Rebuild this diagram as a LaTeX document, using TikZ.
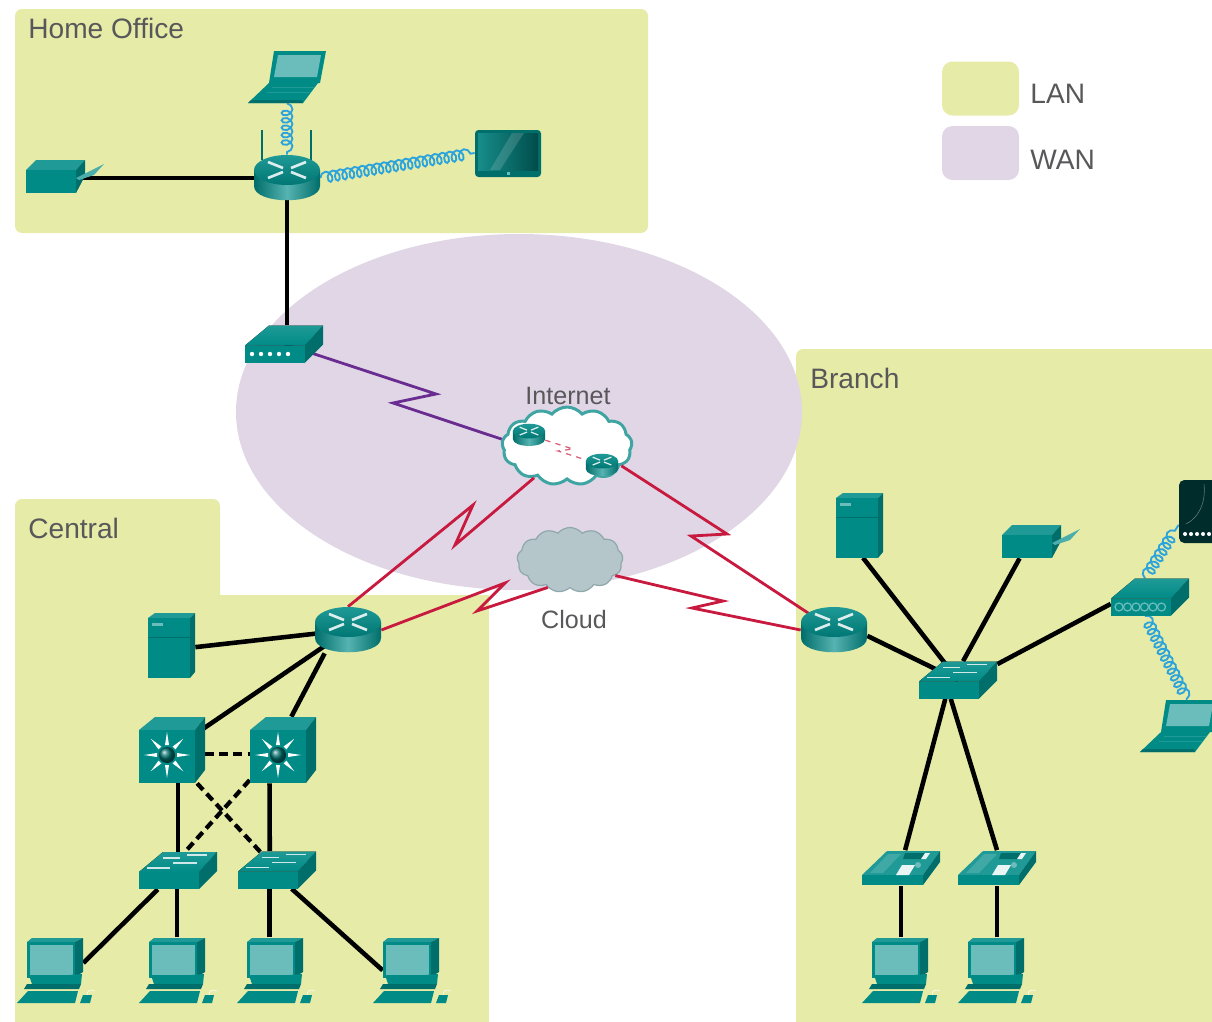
\documentclass[tikz,border=0pt]{standalone}
\usepackage{fontspec}
\usepackage{tikz}
\usetikzlibrary{shapes.symbols,decorations.pathmorphing}
\setmainfont{Liberation Sans}

\definecolor{lanfill}{HTML}{E6EBA7}
\definecolor{wanfill}{HTML}{E0D6E6}
\definecolor{labelgray}{HTML}{58585A}
\definecolor{teal0}{HTML}{008B87}
\definecolor{teal1}{HTML}{006E6B}
\definecolor{teal2}{HTML}{1F9A96}
\definecolor{teal3}{HTML}{6BBDBB}
\definecolor{linkred}{HTML}{C8193F}
\definecolor{linkpurple}{HTML}{6A2C91}
\definecolor{coilblue}{HTML}{2BA3DC}
\definecolor{cloudrim}{HTML}{3FA5A2}
\definecolor{cloudgrey}{HTML}{B4C6C9}
\definecolor{cloudgreyrim}{HTML}{8FA8AC}

\tikzset{
    dev/.style 2 args={inner sep=0pt, minimum width=#1*0.02cm, minimum height=#2*0.02cm},
    rtrnode/.style={dev={66}{46}},
    l3node/.style={dev={66}{66}},
    swnode/.style={dev={78}{37}},
    pcnode/.style={dev={56}{46}},
    srvnode/.style={dev={48}{65}},
    prnnode/.style={dev={80}{34}},
    lapnode/.style={dev={78}{52}},
    tabnode/.style={dev={66}{47}},
    phonenode/.style={dev={78}{35}},
    lbl/.style={text=labelgray, inner sep=0pt, font=\fontsize{16}{18}\selectfont},
    wanlbl/.style={lbl, font=\fontsize{14.3}{16}\selectfont},
    legbox/.style={dev={77}{54}, rounded corners=6pt},
    wire/.style={line width=2.6pt, black},
    wiredash/.style={wire, line width=2.4pt, dash pattern=on 5pt off 3pt},
    serial/.style={line width=1.6pt, linkred, line join=miter},
    coillink/.style={coilblue, line width=1.05pt, decorate,
        decoration={coil, aspect=.75, segment length=4.2pt, amplitude=3.1pt}},
    pics/slab/.style={code={
        \fill[top color=teal2, bottom color=teal0] (-39,1.5) -- (-15,-18.5) -- (39,-18.5) -- (21,1.5) -- cycle;
        \fill[teal0] (-39,1.5) rectangle (21,18.5);
        \fill[teal1] (21,1.5) -- (39,-18.5) -- (39,.5) -- (21,18.5) -- cycle;
    }},
    pics/router/.style={code={
        \shade[left color=teal1, right color=teal1, middle color=teal3!80!teal0]
            (-33,-8) -- (-33,8) .. controls (-33,27) and (33,27) .. (33,8) -- (33,-8) -- cycle;
        \shade[top color=teal2, bottom color=teal1!70!teal0] (0,-8) ellipse [x radius=33, y radius=15];
        \draw[white, line width=#1, opacity=.85]
            (-19,-16) -- (-4,-10) (-19,0) -- (-4,-6) (19,-16) -- (4,-10) (19,0) -- (4,-6);
    }},
    pics/antennas/.style={code={
        \draw[teal1, line width=1.6pt] (-25,-48) -- (-25,-18) (24,-48) -- (24,-18);
    }},
    pics/ltswitch/.style={code={
        \fill[teal2] (-33,-20) -- (-17,-33) -- (33,-33) -- (23,-20) -- cycle;
        \fill[teal0] (-33,-20) rectangle (23,33);
        \fill[teal1] (23,-20) -- (33,-33) -- (33,20) -- (23,33) -- cycle;
        \foreach \a in {0,45,...,315}
            \fill[white, shift={(-5,5)}, rotate=\a] (10,-2) -- (23,0) -- (10,2) -- cycle;
        \shade[ball color=teal1] (-5,5) circle [radius=8];
    }},
    pics/accsw/.style={code={
        \pic {slab};
        \draw[white, line width=.7pt, opacity=.8]
            (-31,-2.5) -- (-8,-2.5) (-15,-12.5) -- (2,-12.5) (-5,-7.5) -- (19,-7.5) (9,-15.5) -- (29,-15.5);
    }},
    pics/hub/.style={code={
        \pic {slab};
        \foreach \i in {-31,-22.5,...,12}
            \draw[teal3, line width=.7pt] (\i,10) circle [radius=4];
    }},
    pics/modembox/.style={code={
        \pic {slab};
        \foreach \i in {-32,-23,...,4}
            \fill[white] (\i,10) circle [radius=2.2];
    }},
    pics/deskpc/.style={code={
        \fill[teal2] (-28,-18) -- (-23,-22) -- (28,-22) -- (20,-18) -- cycle;
        \fill[teal1] (20,-18) -- (28,-22) -- (28,12) -- (20,17) -- cycle;
        \fill[teal0] (-28,-18) rectangle (20,18);
        \fill[teal3] (-25,-15) rectangle (18,15);
        \fill[teal0] (-25,18) -- (27,14) -- (26,24) -- (-23,24) -- cycle;
        \fill[teal1] (-28,24) -- (26,24) -- (24,29) -- (-31,29) -- cycle;
        \fill[teal0] (-38,43) -- (-27,31) -- (23,31) -- (20,43) -- cycle;
        \fill[teal0] (25,43) -- (28,35) -- (37,35) -- (35,43) -- cycle;
        \draw[white, line width=.3pt] (32,35) .. controls (32,30) and (36,29) .. (40,31);
    }},
    pics/tower/.style={code={
        \fill[teal2] (-23,-27) -- (-16,-32) -- (24,-32) -- (19,-27) -- cycle;
        \fill[teal1] (19,-27) -- (24,-32) -- (24,27) -- (19,33) -- cycle;
        \fill[teal0] (-23,-27) rectangle (19,33);
        \draw[teal1, line width=.5pt] (-23,-8) -- (19,-8);
        \fill[teal3] (-19,-22) rectangle (-8,-19);
    }},
    pics/printer/.style={code={
        \fill[teal2] (-39,-6) -- (-29,-16) -- (20,-16) -- (11,-6) -- cycle;
        \fill[teal1] (11,-6) -- (20,-16) -- (20,0) -- (11,17) -- cycle;
        \fill[teal0] (-39,-6) rectangle (11,17);
        \fill[teal3!70!teal0] (11,2) -- (39,-12) -- (29,-1) -- (14,4) -- cycle;
    }},
    pics/laptop/.style={code={
        \fill[teal0] (-13,-26) -- (39,-26) -- (33,6) -- (-18,6) -- cycle;
        \fill[teal3] (-9,-22) -- (34,-22) -- (30,0) -- (-13,0) -- cycle;
        \fill[teal0] (-39,26) -- (16,26) -- (31,6) -- (-18,6) -- cycle;
        \draw[teal2, line width=.5pt] (-15,10) -- (27,10) (-20,15) -- (23,15);
        \fill[teal1] (-39,26) -- (16,26) -- (15,23) -- (-36,23) -- cycle;
    }},
    pics/tablet/.style={code={
        \fill[teal0!80!black, rounded corners=2pt] (-33,-23) rectangle (33,24);
        \shade[left color=teal2!70!teal1, right color=teal1!70!black] (-30,-20) rectangle (30,17);
        \fill[white, opacity=.15] (4,-20) -- (16,-20) -- (-8,17) -- (-18,17) -- cycle;
        \fill[teal3] (-1,19) rectangle (2,22);
    }},
    pics/smartdev/.style={code={
        \fill[teal1!40!black, rounded corners=3pt] (-33,-32) rectangle (33,31);
        \draw[white, line width=.3pt, opacity=.4] (-8,-28) .. controls (-6,-8) and (-14,6) .. (-26,12);
        \foreach \i in {-27,-21,-15,-9,-3,3}
            \fill[white] (\i,22) circle [radius=2];
    }},
    pics/deskphone/.style={code={
        \fill[teal2] (-39,7) -- (-14,-17) -- (39,-17) -- (22,7) -- cycle;
        \fill[teal0] (-39,7) rectangle (22,17);
        \fill[teal1] (22,7) -- (39,-17) -- (39,-6) -- (22,17) -- cycle;
        \fill[teal3!60!teal0] (-31,5) -- (-13,-14) -- (0,-14) -- (-18,5) -- cycle;
        \fill[white, opacity=.9] (-5,7) -- (1,-3) -- (14,-3) -- (8,7) -- cycle;
        \fill[teal1] (4,-15) -- (24,-15) -- (22,-9) -- (2,-9) -- cycle;
        \fill[white, opacity=.9] (24,-15) -- (29,-15) -- (25,-9) -- (20,-9) -- cycle;
        \fill[teal3] (17,-3) circle [radius=3];
    }},
}

\begin{document}
\begin{tikzpicture}[x=0.02cm, y=-0.02cm]
    \useasboundingbox (0,0) rectangle (1212,1021);
    \clip (0,0) rectangle (1212,1021);

    \fill[lanfill, rounded corners=4pt] (15,9) rectangle (648,233);
    \fill[lanfill, rounded corners=4pt] (15,700) rectangle (220,499);
    \fill[lanfill] (15,595) rectangle (489,1040);
    \fill[lanfill, rounded corners=4pt] (796,1040) -- (796,349) -- (1240,349) -- (1240,1040) -- cycle;
    \fill[wanfill] (519,412) ellipse [x radius=283, y radius=178];

    \node[legbox, fill=lanfill] (legLan) at (980.5,88.5) {};
    \node[legbox, fill=wanfill] (legWan) at (980.5,153) {};
    \node[lbl, anchor=west] (legLanText) at (1030,94) {LAN};
    \node[lbl, anchor=west] (legWanText) at (1030,160) {WAN};

    \node[lbl, anchor=west] (homeLabel) at (28,28) {Home Office};
    \node[lbl, anchor=west] (centralLabel) at (28,528) {Central};
    \node[lbl, anchor=west] (branchLabel) at (810,378) {Branch};

    \node[cloud, cloud puffs=13, cloud puff arc=100, aspect=1.7, inner sep=0pt, draw=cloudrim, fill=white,
        line width=1.7pt, minimum width=2.6cm, minimum height=1.56cm] (inetCloud) at (567,446) {};
    \node[cloud, cloud puffs=13, cloud puff arc=100, aspect=1.6, inner sep=0pt, draw=cloudgreyrim, fill=cloudgrey,
        line width=.7pt, minimum width=2.12cm, minimum height=1.3cm] (greyCloud) at (570,560) {};
    \node[wanlbl] (inetLabel) at (568,396) {Internet};
    \node[wanlbl] (cloudLabel) at (574,620) {Cloud};

    \node[rtrnode] (rtrHome) at (287,178) {};
    \node[rtrnode] (rtrCentral) at (348,630) {};
    \node[rtrnode] (rtrBranch) at (834,630) {};
    \node[dev={32}{24}] (rtrNetA) at (529,435) {};
    \node[dev={32}{24}] (rtrNetB) at (602,465) {};
    \node[prnnode] (prnHome) at (65,176) {};
    \node[prnnode] (prnBranch) at (1041,541) {};
    \node[lapnode] (lapHome) at (287,77) {};
    \node[lapnode] (lapBranch) at (1179,726) {};
    \node[tabnode] (tabHome) at (508,153) {};
    \node[dev={66}{63}] (tabBranch) at (1212,512) {};
    \node[swnode] (modem) at (284,344) {};
    \node[srvnode] (srvCentral) at (171,645) {};
    \node[srvnode] (srvBranch) at (859,525) {};
    \node[l3node] (ltA) at (172,750) {};
    \node[l3node] (ltB) at (283,750) {};
    \node[swnode] (swA) at (178,870.5) {};
    \node[swnode] (swB) at (277,870) {};
    \node[swnode] (swBranch) at (958,680) {};
    \node[swnode] (hubBranch) at (1150,597) {};
    \node[phonenode] (phoneA) at (901,868) {};
    \node[phonenode] (phoneB) at (997,868) {};
    \node[pcnode] (pcA) at (55,960) {};
    \node[pcnode] (pcB) at (177,960) {};
    \node[pcnode] (pcC) at (275,960) {};
    \node[pcnode] (pcD) at (411,960) {};
    \node[pcnode] (pcE) at (900,960) {};
    \node[pcnode] (pcF) at (996,960) {};

    \coordinate (zigHomeA) at (436,394);
    \coordinate (zigHomeB) at (393,403);
    \coordinate (zigNetA) at (573,449);
    \coordinate (zigNetB) at (558,451);
    \coordinate (zigCentA) at (473,505);
    \coordinate (zigCentB) at (455,545);
    \coordinate (zigCloudA) at (505,583);
    \coordinate (zigCloudB) at (477,611);
    \coordinate (zigCloudC) at (723,601);
    \coordinate (zigCloudD) at (692,608);
    \coordinate (zigBranA) at (727,534);
    \coordinate (zigBranB) at (691,536);

    \draw[serial, linkpurple] (modem.center) -- (zigHomeA) -- (zigHomeB) -- (inetCloud.174);
    \draw[serial, line width=.7pt, linkred!70!white, dashed] (rtrNetA) -- (zigNetA) -- (zigNetB) -- (rtrNetB);
    \draw[serial] (rtrCentral.north) -- (zigCentA) -- (zigCentB) -- (inetCloud.224);
    \draw[serial] (inetCloud.-20) -- (zigBranA) -- (zigBranB) -- (rtrBranch.center);
    \draw[serial] (rtrCentral.east) -- (zigCloudA) -- (zigCloudB) -- (greyCloud.231);
    \draw[serial] (greyCloud.-19) -- (zigCloudC) -- (zigCloudD) -- (rtrBranch.west);

    \draw[wire] (prnHome |- rtrHome) -- (rtrHome.center);
    \draw[wire] (rtrHome.center) -- (rtrHome.center |- modem.north);
    \draw[coillink] (lapHome.south) -- (lapHome.south |- rtrHome.north);
    \draw[coillink] (rtrHome.east) -- (tabHome.west);

    \draw[wire] (srvCentral.-5) -- (rtrCentral.center);
    \draw[wire] (rtrCentral.center) -- (ltA.center);
    \draw[wire] (rtrCentral.225) -- (ltB.76);
    \draw[wiredash] (ltA.-7) -- (ltB.187);
    \draw[wiredash] (ltA.-53) -- (swB.center);
    \draw[wiredash] (ltB.222) -- (swA.69);
    \draw[wire] (swA.north) -- (swA.north |- ltA.south);
    \draw[wire] (ltB.248) -- (swB.111);
    \draw[wire] (swA.223) -- (pcA.-6);
    \draw[wire] (pcB.north) -- (pcB.north |- swA.south);
    \draw[wire] (swB.249) -- (swB.249 |- pcC.north);
    \draw[wire] (swB.-52) -- (pcD.200);

    \draw[wire] (rtrBranch.-10) -- (swBranch.center);
    \draw[wire] (srvBranch.-83) -- (swBranch.center);
    \draw[wire] (prnBranch.219) -- (swBranch.75);
    \draw[wire] (hubBranch.190) -- (swBranch.22);
    \draw[wire] (swBranch.236) -- (phoneA.77);
    \draw[wire] (swBranch.249) -- (phoneB.north);
    \draw[wire] (phoneA.south) -- (phoneA.south |- pcE.north);
    \draw[wire] (phoneB.south) -- (phoneB.south |- pcF.north);
    \draw[coillink] (hubBranch.105) -- (tabBranch.201);
    \draw[coillink] (hubBranch.255) -- (lapBranch.73);

    \pic at (rtrHome) {antennas};
    \foreach \n in {rtrHome,rtrCentral,rtrBranch}
        \pic at (\n) {router=1.5pt};
    \foreach \n in {rtrNetA,rtrNetB}
        \pic[scale=.49] at (\n) {router=.7pt};
    \foreach \n in {ltA,ltB}
        \pic at (\n) {ltswitch};
    \foreach \n in {swA,swB,swBranch}
        \pic at (\n) {accsw};
    \foreach \n in {pcA,pcB,pcC,pcD,pcE,pcF}
        \pic at (\n) {deskpc};
    \foreach \n in {srvCentral,srvBranch}
        \pic at (\n) {tower};
    \foreach \n in {prnHome,prnBranch}
        \pic at (\n) {printer};
    \foreach \n in {lapHome,lapBranch}
        \pic at (\n) {laptop};
    \foreach \n in {phoneA,phoneB}
        \pic at (\n) {deskphone};
    \pic at (tabHome) {tablet};
    \pic at (tabBranch) {smartdev};
    \pic at (modem) {modembox};
    \pic at (hubBranch) {hub};
\end{tikzpicture}
\end{document}
